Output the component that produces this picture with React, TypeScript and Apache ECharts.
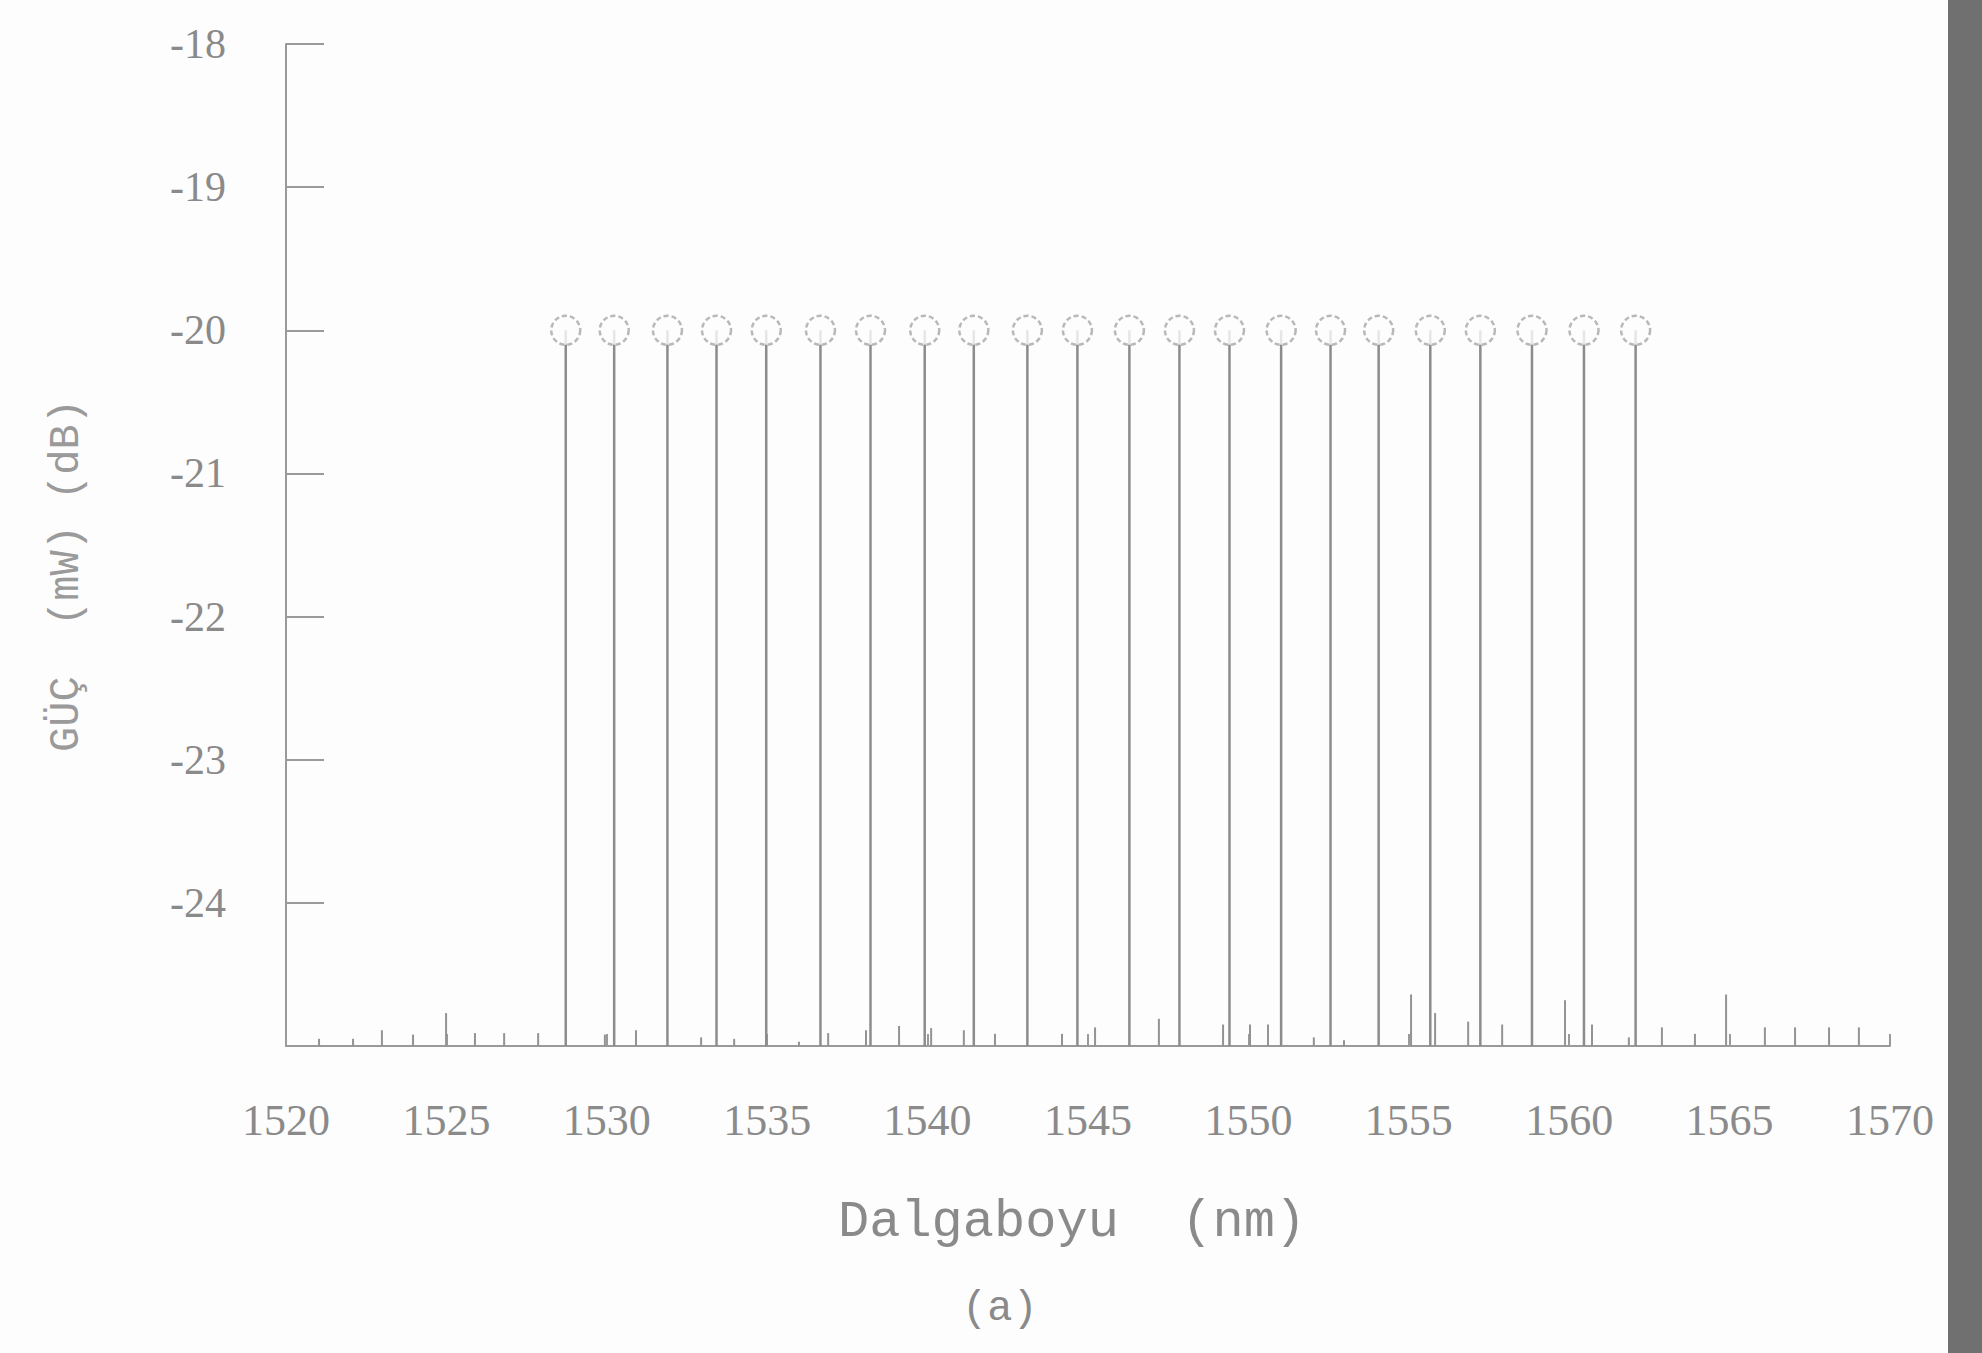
import React, { useEffect, useRef } from "react";
import * as echarts from "echarts";

// Channel wavelengths (nm) and their power levels (dB)
const channelWavelengths = [
  1528.72, 1530.23, 1531.89, 1533.42, 1534.97, 1536.66, 1538.22, 1539.91,
  1541.44, 1543.11, 1544.67, 1546.29, 1547.85, 1549.41, 1551.02, 1552.56,
  1554.06, 1555.67, 1557.23, 1558.84, 1560.46, 1562.07,
];
const channelPower = [
  -20, -20, -20, -20, -20, -20, -20, -20, -20, -20, -20, -20, -20, -20, -20,
  -20, -20, -20, -20, -20, -20, -20,
];

// Small noise-floor spikes along the baseline
const noiseWavelengths = [
  1521.03, 1522.09, 1522.99, 1523.96, 1524.99, 1525.89, 1526.8, 1527.86,
  1529.94, 1530.91, 1532.94, 1533.97, 1535.99, 1536.9, 1538.08, 1539.11,
  1540.11, 1541.13, 1542.1, 1544.19, 1545.22, 1547.21, 1549.21, 1550.05,
  1550.61, 1552.04, 1552.98, 1555.07, 1555.82, 1556.85, 1557.91, 1559.87,
  1560.71, 1561.86, 1562.89, 1563.92, 1564.89, 1566.1, 1567.04, 1568.1,
  1569.03,
];
const noisePower = [
  -24.95, -24.95, -24.89, -24.92, -24.77, -24.91, -24.91, -24.91,
  -24.92, -24.89, -24.94, -24.95, -24.97, -24.91, -24.89, -24.86,
  -24.875, -24.89, -24.915, -24.915, -24.87, -24.81, -24.85, -24.85,
  -24.85, -24.94, -24.96, -24.64, -24.77, -24.83, -24.85, -24.68,
  -24.85, -24.94, -24.87, -24.915, -24.64, -24.87, -24.87, -24.87,
  -24.87,
];

const xTicks = [1520, 1525, 1530, 1535, 1540, 1545, 1550, 1555, 1560, 1565, 1570];
const yTicks = [-24, -23, -22, -21, -20, -19, -18];

const Y_MIN = -25;
const Y_MAX = -18;
const X_MIN = 1520;
const X_MAX = 1570;

const GRAY = "#8a8a8a";
const TEXT_FONT = "Liberation Serif";

export default function App() {
  const ref = useRef<HTMLDivElement>(null);

  useEffect(() => {
    if (!ref.current) return;
    const chart = echarts.init(ref.current, undefined, { renderer: "svg" });

    const stemItem = (lineColor: string, width: number) => (params: any, api: any) => {
      const x = api.value(0);
      const y = api.value(1);
      const top = api.coord([x, y]);
      const bottom = api.coord([x, Y_MIN]);
      return {
        type: "line",
        shape: { x1: top[0], y1: top[1], x2: bottom[0], y2: bottom[1] },
        style: { stroke: lineColor, lineWidth: width },
      };
    };

    chart.setOption({
      animation: false,
      backgroundColor: "#fdfdfd",
      grid: { left: 286, right: 92, top: 44, bottom: 307, containLabel: false },
      xAxis: {
        type: "value",
        min: X_MIN,
        max: X_MAX,
        interval: 5,
        axisLine: { show: true, lineStyle: { color: "#9a9a9a", width: 2 } },
        axisTick: { show: true, inside: true, length: 12, lineStyle: { color: "#9a9a9a", width: 2 } },
        splitLine: { show: false },
        axisLabel: {
          margin: 52,
          color: GRAY,
          fontFamily: TEXT_FONT,
          fontSize: 44,
          formatter: (v: number) => (xTicks.includes(v) ? String(v) : ""),
        },
      },
      yAxis: {
        type: "value",
        min: Y_MIN,
        max: Y_MAX,
        interval: 1,
        axisLine: { show: true, lineStyle: { color: "#9a9a9a", width: 2 } },
        axisTick: { show: true, inside: true, length: 38, lineStyle: { color: "#9a9a9a", width: 2 } },
        splitLine: { show: false },
        axisLabel: {
          margin: 60,
          color: GRAY,
          fontFamily: TEXT_FONT,
          fontSize: 42,
          formatter: (v: number) => (yTicks.includes(v) ? String(v) : ""),
        },
      },
      series: [
        {
          type: "custom",
          name: "noise",
          renderItem: stemItem("#939393", 2),
          data: noiseWavelengths.map((w, i) => [w, noisePower[i]]),
          silent: true,
          z: 1,
        },
        {
          type: "custom",
          name: "stems",
          renderItem: stemItem("#8c8c8c", 2.5),
          data: channelWavelengths.map((w, i) => [w, channelPower[i]]),
          silent: true,
          z: 2,
        },
        {
          type: "scatter",
          name: "markers",
          data: channelWavelengths.map((w, i) => [w, channelPower[i]]),
          symbol: "circle",
          symbolSize: 29,
          itemStyle: {
            color: "#fdfdfd",
            borderColor: "#a6a6a6",
            borderWidth: 2.5,
            borderType: [5, 3],
          },
          silent: true,
          z: 3,
        },
      ],
      graphic: [
        {
          type: "text",
          left: 838,
          top: 1196,
          style: {
            text: "Dalgaboyu  (nm)",
            font: `52px "Liberation Mono"`,
            fill: GRAY,
          },
        },
        {
          type: "text",
          left: 962,
          top: 1288,
          style: {
            text: "(a)",
            font: `42px "Liberation Mono"`,
            fill: GRAY,
          },
        },
        {
          type: "text",
          x: 46,
          y: 752,
          rotation: Math.PI / 2,
          style: {
            text: "GÜÇ  (mW) (dB)",
            font: `42px "Liberation Mono"`,
            fill: "#9a9a9a",
          },
        },
        {
          type: "rect",
          shape: { x: 1948, y: 0, width: 34, height: 1353 },
          style: { fill: "#707070" },
        },
      ],
    });

    return () => chart.dispose();
  }, []);

  return (
    <div
      ref={ref}
      style={{ position: "fixed", left: 0, top: 0, width: "1982px", height: "1353px" }}
    />
  );
}
